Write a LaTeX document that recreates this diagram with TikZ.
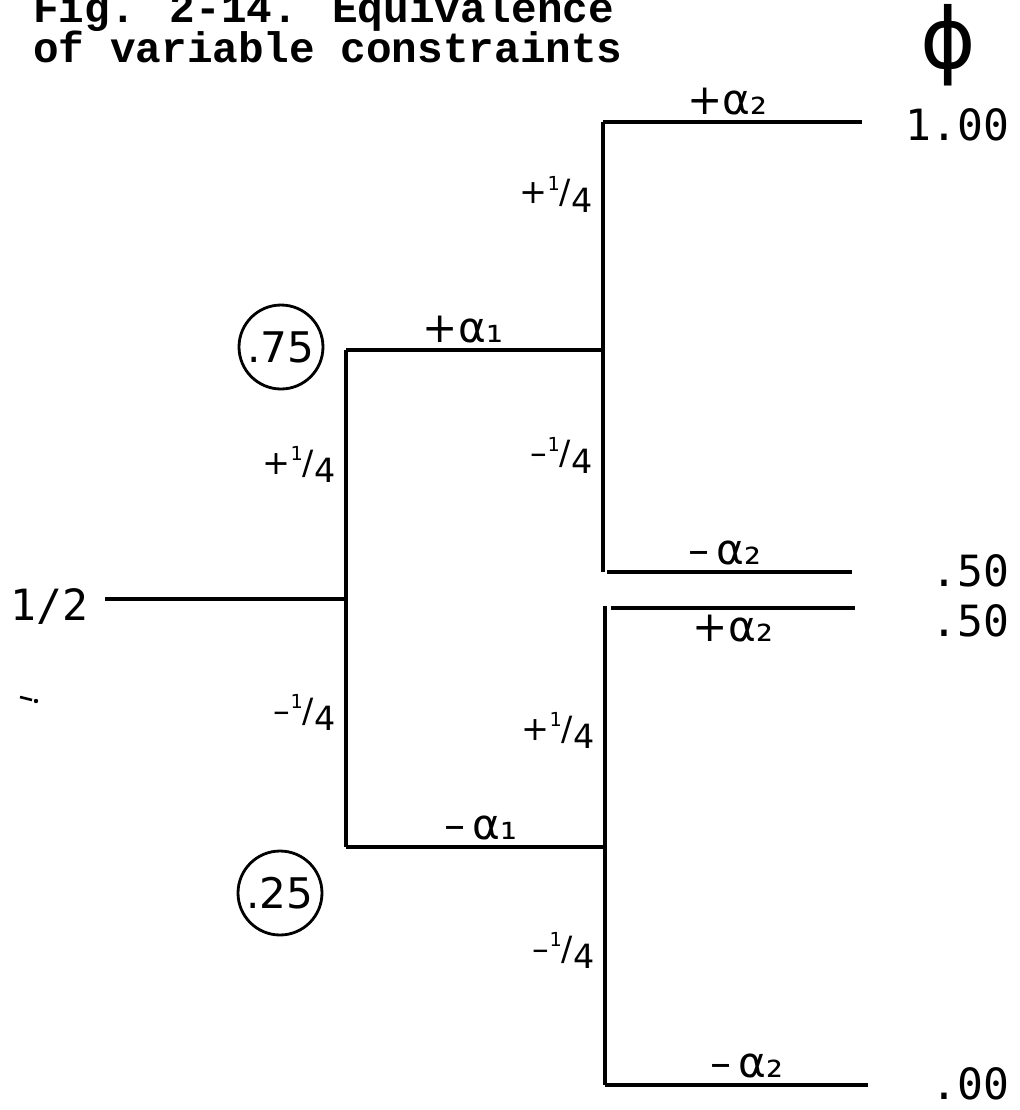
\documentclass[tikz,border=0pt]{standalone}
\usepackage{fontspec}
\usepackage{tikz}
\newfontfamily\typefont{Liberation Mono}
\newfontfamily\numfont{DejaVu Sans Mono}
\newfontfamily\handfont{DejaVu Sans}
\newcommand{\qtr}[1]{#1\raisebox{0.75ex}{\fontsize{11}{11}\selectfont 1}/\raisebox{-0.45ex}{4}}

\begin{document}
\begin{tikzpicture}[x=0.02cm, y=-0.02cm,
        branch/.style={line width=2pt},
        title/.style={font=\typefont\bfseries\fontsize{24.3}{24.3}\selectfont, inner sep=0pt, anchor=base west},
        lbl/.style={font=\handfont\fontsize{24}{24}\selectfont, inner sep=3pt},
        frac/.style={font=\handfont\fontsize{19}{19}\selectfont, inner sep=5pt, left},
        val/.style={font=\numfont\fontsize{24.5}{24.5}\selectfont, inner sep=0pt},
        ring/.style={draw, circle, line width=1.6pt, minimum size=1.68cm, inner sep=0pt,
                     font=\handfont\fontsize{24}{24}\selectfont}]
        \useasboundingbox (0,0) rectangle (1019,1110);
        \clip (0,0) rectangle (1019,1110);

        % Caption (top line runs off the page)
        \node[title] (title1) at (33,22) {Fig. 2-14. Equivalence};
        \node[title] (title2) at (33,62) {of variable constraints};

        % Head of the value column
        \node[font=\handfont\fontsize{48}{48}\selectfont, anchor=base, inner sep=0pt] (phi) at (948,68) {ϕ};

        % Branch points
        \coordinate (root) at (105,599);
        \coordinate (j1) at (346,599);
        \coordinate (u1) at (346,350);
        \coordinate (d1) at (346,847);
        \coordinate (j2) at (603,350);
        \coordinate (t2) at (603,122);
        \coordinate (b2) at (603,572);
        \coordinate (j3) at (605,847);
        \coordinate (t3) at (605,606);
        \coordinate (b3) at (605,1085);
        \coordinate (s3) at (611,608);

        % Ends of the last branches
        \coordinate (e1) at (862,122);
        \coordinate (e2) at (852,572);
        \coordinate (e3) at (855,608);
        \coordinate (e4) at (868,1085);

        % Start value
        \node[val, anchor=base west] (half) at (10,620) {1/2};
        \draw[branch] (root) -- (j1);

        % First split
        \draw[branch] (u1) -- node[frac, pos=0.23] {\qtr{+}} node[frac, pos=0.73] {\qtr{–}} (d1);
        \draw[branch] (u1) -- node[lbl, above, pos=0.455] {+α₁} (j2);
        \draw[branch] (d1) -- node[lbl, above, pos=0.52] {–\,α₁} (j3);
        \node[ring] (c75) at (281,347) {.75};
        \node[ring] (c25) at (280,893) {.25};

        % Second split, upper
        \draw[branch] (t2) -- node[frac, pos=0.16] {\qtr{+}} node[frac, pos=0.74] {\qtr{–}} (b2);
        \draw[branch] (t2) -- node[lbl, above, pos=0.48] {+α₂} (e1);
        \draw[branch] (b2) ++(4,0) -- node[lbl, above, pos=0.48] {–\,α₂} (e2);

        % Second split, lower
        \draw[branch] (t3) -- node[frac, pos=0.26] {\qtr{+}} node[frac, pos=0.72] {\qtr{–}} (b3);
        \draw[branch] (s3) -- node[lbl, below, pos=0.5] {+α₂} (e3);
        \draw[branch] (b3) -- node[lbl, above, pos=0.54] {–\,α₂} (e4);

        % Resulting values
        \node[val, anchor=base east] (v100) at (1010,140) {1.00};
        \node[val, anchor=base east] (v50a) at (1010,586) {.50};
        \node[val, anchor=base east] (v50b) at (1010,636) {.50};
        \node[val, anchor=base east] (v00) at (1010,1099) {.00};

        % Stray pen mark
        \draw[line width=1.5pt] (20,697) -- (32,700);
        \fill (36,701) circle (2.2);
\end{tikzpicture}
\end{document}
